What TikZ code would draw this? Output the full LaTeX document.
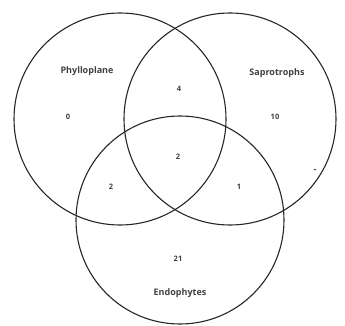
\documentclass[tikz,border=0pt]{standalone}
\usepackage{fontspec}
\setmainfont{Open Sans}
\usepackage{tikz}
\usetikzlibrary{positioning}

\begin{document}
\begin{tikzpicture}[
    x=1pt, y=-1pt,
    venn/.style={circle, draw=black!85, line width=1.1pt, minimum size=212pt, inner sep=0pt},
    setlabel/.style={font=\fontsize{9}{11}\selectfont\bfseries, text=black!75, inner sep=1pt},
    count/.style={font=\fontsize{7.5}{9}\selectfont\bfseries, text=black!75, inner sep=1pt}
]
\useasboundingbox (0,0) rectangle (345,326);

% Circles
\node[venn] (phyllo) at (120,119) {};
\node[venn] (sapro) at (230,119) {};
\node[venn, minimum size=208pt] (endo) at (180,220) {};

% Set names
\node[setlabel] (phylloname) at (87,71) {Phylloplane};
\node[setlabel] (saproname) at (277,73) {Saprotrophs};
\node[setlabel] (endoname) at (180,293) {Endophytes};

% Counts
\node[count] (nphyllo) at (68,117) {0};
\node[count] (nps) at (179,89) {4};
\node[count] (nsapro) at (275,117) {10};
\node[count] (nall) at (178,157) {2};
\node[count] (npe) at (111,187) {2};
\node[count] (nse) at (239,187) {1};
\node[count, font=\fontsize{9}{9}\selectfont\bfseries] (ndash) at (315,171) {-};
\node[count] (nendo) at (178,259) {21};

\end{tikzpicture}
\end{document}
